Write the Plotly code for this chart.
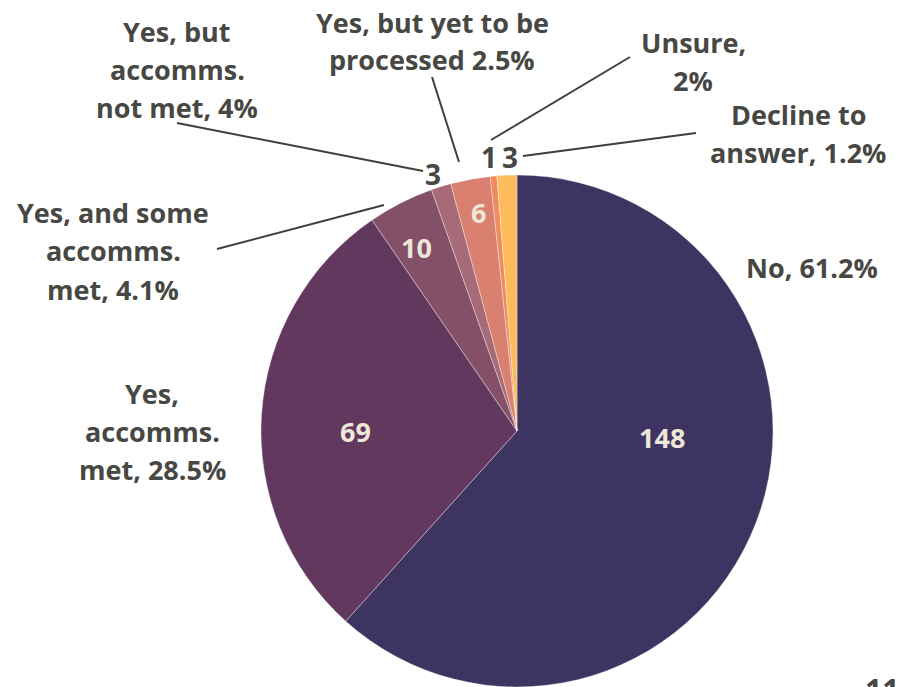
import plotly.graph_objects as go

W, H = 898, 687

# ---- data ----
categories = ["No", "Yes, accomms. met", "Yes, and some accomms. met",
              "Yes, but accomms. not met", "Yes, but yet to be processed",
              "Unsure", "Decline to answer"]
counts = [148, 69, 10, 3, 6, 1, 3]
pct_labels = ["61.2%", "28.5%", "4.1%", "4%", "2.5%", "2%", "1.2%"]
label_lines = [
    ["No, 61.2%"],
    ["Yes,", "accomms.", "met, 28.5%"],
    ["Yes, and some", "accomms.", "met, 4.1%"],
    ["Yes, but", "accomms.", "not met, 4%"],
    ["Yes, but yet to be", "processed 2.5%"],
    ["Unsure,", "2%"],
    ["Decline to", "answer, 1.2%"],
]
colors = ["#3E3461", "#62385E", "#845068", "#A66A78", "#D98070", "#EE8C5E", "#FDBB5B"]

# ---- layout helpers (pixel -> paper) ----
def px(x):
    return x / W

def py(y):
    return 1 - y / H

TEXT = "#474743"
CREAM = "#EDE7D8"
FONT = "Open Sans"

# label block positions (center x, first line y), line spacing
label_pos = [(812, 267), (152, 393), (113, 213), (177, 31), (432, 22), (693, 42), (798, 115)]
LINE_SP = 38
# value label positions; inside for large slices, outside for small ones
value_pos = [(662, 437, True), (355, 431, True), (416, 247, True), (433, 174, False),
             (478, 213, True), (489, 157, False), (510, 157, False)]
# leader lines
leaders = [None, None, ((217, 249), (384, 205)), ((177, 123), (423, 171)),
           ((432, 77), (459, 162)), ((630, 57), (491, 140)), ((696, 133), (523, 156))]

fig = go.Figure(go.Pie(
    labels=categories, values=counts, sort=False, direction="clockwise", rotation=0,
    marker=dict(colors=colors, line=dict(color="rgba(255,255,255,0.6)", width=0.6)),
    textinfo="none", hoverinfo="label+value", showlegend=False,
    domain=dict(x=[px(261), px(773)], y=[0, 512 / H]),
))

annotations = []
for lines, (cx, y0) in zip(label_lines, label_pos):
    for i, t in enumerate(lines):
        annotations.append(dict(x=px(cx), y=py(y0 + i * LINE_SP), xref="paper", yref="paper",
                                text=t, showarrow=False, xanchor="center", yanchor="middle",
                                font=dict(family=FONT, size=27, color=TEXT, weight="bold")))
for c, (x, y, inside) in zip(counts, value_pos):
    annotations.append(dict(x=px(x), y=py(y), xref="paper", yref="paper", text=str(c),
                            showarrow=False, xanchor="center", yanchor="middle",
                            font=dict(family=FONT, size=27 if inside else 28,
                                      color=CREAM if inside else TEXT, weight="bold")))
# page number (cut off at bottom in the original slide)
annotations.append(dict(x=px(882), y=py(690), xref="paper", yref="paper", text="11",
                        showarrow=False, xanchor="center", yanchor="middle",
                        font=dict(family=FONT, size=30, color=TEXT, weight="bold")))

shapes = []
for ld in leaders:
    if ld is None:
        continue
    (x0, y0), (x1, y1) = ld
    shapes.append(dict(type="line", xref="paper", yref="paper", x0=px(x0), y0=py(y0),
                       x1=px(x1), y1=py(y1), line=dict(color="#3F3F3C", width=2)))

fig.update_layout(width=W, height=H, margin=dict(l=0, r=0, t=0, b=0),
                  paper_bgcolor="white", plot_bgcolor="white",
                  annotations=annotations, shapes=shapes)

fig.write_html("out.html", config={"displayModeBar": False},
               post_script="document.body.style.margin='0';document.body.style.overflow='hidden';")
